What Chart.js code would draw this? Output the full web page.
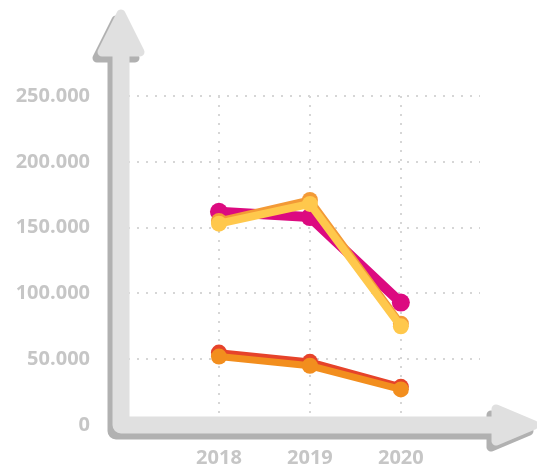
<!DOCTYPE html>
<html>
<head>
<meta charset="utf-8">
<script src="https://cdn.jsdelivr.net/npm/chart.js@4/dist/chart.umd.min.js"></script>
<style>
  html, body { margin: 0; padding: 0; background: #fff; overflow: hidden; }
  canvas { display: block; }
</style>
</head>
<body>
<canvas id="chart" width="537" height="468"></canvas>
<script>
/* data */
var years = [2018, 2019, 2020];
var yTicks = [0, 50000, 100000, 150000, 200000, 250000];
var magentaVals = [162000, 158000, 93000];
var orangeTopVals = [155000, 171000, 77000];
var yellowVals = [153000, 168000, 75000];
var redVals = [55000, 48000, 29000];
var orangeLowVals = [52000, 45000, 27000];

function pts(vals) {
  return vals.map(function (v, i) { return { x: years[i], y: v }; });
}

function line(vals, color, width, radius, order) {
  return {
    data: pts(vals),
    borderColor: color,
    backgroundColor: color,
    pointBackgroundColor: color,
    pointBorderWidth: 0,
    borderWidth: width,
    pointRadius: radius,
    tension: 0,
    order: order
  };
}

// big grey arrows as axes
var arrowPlugin = {
  id: 'arrows',
  beforeDatasetsDraw: function (chart) {
    var c = chart.ctx;
    var a = chart.chartArea;
    var y0 = chart.scales.y.getPixelForValue(0);
    var xs = a.left - 7;          // centre of vertical shaft
    var top = 14;
    var right = 534;
    function shape(dx, dy, col) {
      c.save();
      c.strokeStyle = col;
      c.fillStyle = col;
      c.lineCap = 'round';
      c.lineJoin = 'round';
      // shafts
      c.lineWidth = 17;
      c.beginPath();
      c.moveTo(xs + dx, top + 20 + dy);
      c.lineTo(xs + dx, y0 + dy);
      c.lineTo(right - 18 + dx, y0 + dy);
      c.stroke();
      // heads
      c.lineWidth = 9;
      c.beginPath();
      c.moveTo(xs - 19 + dx, top + 38 + dy);
      c.lineTo(xs + dx, top + dy);
      c.lineTo(xs + 19 + dx, top + 38 + dy);
      c.closePath();
      c.stroke();
      c.fill();
      c.beginPath();
      c.moveTo(right - 38 + dx, y0 - 16 + dy);
      c.lineTo(right + dx, y0 + dy);
      c.lineTo(right - 38 + dx, y0 + 16 + dy);
      c.closePath();
      c.stroke();
      c.fill();
      c.restore();
    }
    shape(-5, 6, '#b1b1b1');
    shape(0, 0, '#e0e0e0');
  }
};

var labelFont = { family: 'Open Sans', weight: 'bold', size: 20 };

new Chart(document.getElementById('chart'), {
  type: 'line',
  data: {
    datasets: [
      line(redVals, '#e6432a', 7, 8, 5),
      line(orangeLowVals, '#f28e1e', 7, 8, 4),
      line(magentaVals, '#dc0a80', 10, 9, 3),
      line(orangeTopVals, '#f39a36', 7, 8, 2),
      line(yellowVals, '#ffc84c', 8, 8, 1)
    ]
  },
  options: {
    responsive: false,
    animation: false,
    layout: { autoPadding: false, padding: { top: 96, right: 57, left: 0, bottom: 0 } },
    plugins: { legend: { display: false }, tooltip: { enabled: false } },
    scales: {
      x: {
        type: 'linear',
        min: 2017,
        max: 2020.87,
        afterBuildTicks: function (s) {
          s.ticks = years.map(function (v) { return { value: v }; });
        },
        afterFit: function (s) { s.height = 43; },
        border: { display: false, dash: [2, 7] },
        grid: { color: '#d6d6d6', lineWidth: 2, drawTicks: false },
        ticks: { padding: 21, color: '#c6c6c6', font: labelFont, callback: function (v) { return String(v); } }
      },
      y: {
        min: 0,
        max: 250000,
        afterBuildTicks: function (s) {
          s.ticks = yTicks.map(function (v) { return { value: v }; });
        },
        afterFit: function (s) {
          s.width = 128;
          s.paddingTop = 0;
          s.paddingBottom = 0;
        },
        border: { display: false, dash: [2, 7] },
        grid: { color: '#d6d6d6', lineWidth: 2, drawTicks: false },
        ticks: {
          padding: 38,
          color: '#c6c6c6',
          font: labelFont,
          callback: function (v) {
            return v === 0 ? '0' : (v / 1000).toFixed(3);
          }
        }
      }
    }
  },
  plugins: [arrowPlugin]
});
</script>
</body>
</html>
